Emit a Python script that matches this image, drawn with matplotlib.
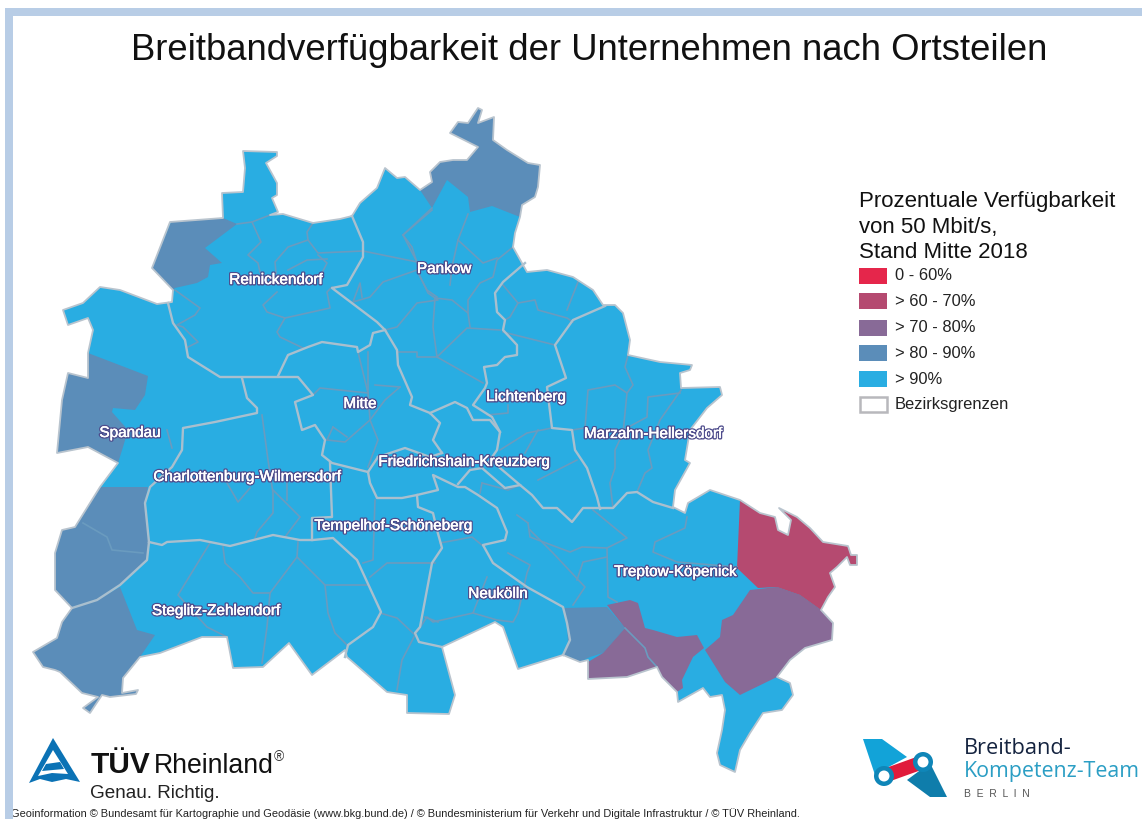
import matplotlib
matplotlib.use("Agg")
import matplotlib.pyplot as plt
import matplotlib.patheffects as pe
from matplotlib.patches import Polygon, Rectangle, Circle

plt.rcParams['font.family'] = ['Liberation Sans', 'DejaVu Sans']

TITLE = "Breitbandverfügbarkeit der Unternehmen nach Ortsteilen"
LEGEND_TITLE = ["Prozentuale Verfügbarkeit", "von 50 Mbit/s,", "Stand Mitte 2018"]
CLASSES = ["0 - 60%", "> 60 - 70%", "> 70 - 80%", "> 80 - 90%", "> 90%"]
CLASS_COLORS = ["#E5264B", "#B54A70", "#886A97", "#5B8DB9", "#29ADE2"]
BORDER_LABEL = "Bezirksgrenzen"
FOOTER = ("Geoinformation © Bundesamt für Kartographie und Geodäsie (www.bkg.bund.de) / "
          "© Bundesministerium für Verkehr und Digitale Infrastruktur / © TÜV Rheinland.")

DISTRICT_LABELS = [
    ("Reinickendorf", 276, 280), ("Pankow", 444, 269), ("Mitte", 360, 404),
    ("Lichtenberg", 526, 397), ("Spandau", 130, 433), ("Marzahn-Hellersdorf", 653, 434),
    ("Charlottenburg-Wilmersdorf", 247, 477), ("Friedrichshain-Kreuzberg", 464, 462),
    ("Tempelhof-Schöneberg", 393, 526), ("Steglitz-Zehlendorf", 216, 611),
    ("Neukölln", 498, 594), ("Treptow-Köpenick", 675, 572),
]

OUTLINE = [(243,151),(277,152),(277,156),(266,163),(271,172),(277,183),(277,195),(272,198),(278,212),(270,215),
 (283,214),(313,223),(340,219),(352,216),(360,203),(377,188),(385,168),(397,178),(405,177),(420,190),
 (432,182),(430,172),(440,162),(453,160),(467,160),(478,147),(450,133),(458,122),(468,123),(478,108),(482,110),
 (478,123),(494,117),(493,140),(507,150),(528,163),(540,165),(538,187),(535,197),(522,205),(520,217),(515,233),
 (513,247),(527,272),(547,270),(573,277),(593,290),(603,305),(615,305),(623,313),(630,340),(628,355),(660,362),
 (692,365),(690,370),(680,373),(681,388),(720,387),(722,395),(707,408),(690,430),(685,460),(690,463),(675,490),
 (673,507),(685,513),(688,503),(710,490),(740,500),(760,513),(775,517),(778,530),(788,535),(791,520),(779,508),
 (797,517),(810,528),(823,542),(848,546),(851,555),(857,555),(857,565),(850,565),(847,557),(837,567),(830,573),
 (835,587),(828,597),(821,610),(833,623),(832,640),(805,648),(790,660),(777,677),(790,683),(793,695),(782,710),
 (763,713),(750,733),(740,750),(735,772),(720,765),(717,753),(722,730),(725,710),(722,695),(710,697),(703,688),(678,702),
 (677,692),(662,677),(657,667),(627,677),(588,679),(588,660),(580,662),(563,655),(518,669),(503,627),
 (495,622),(442,647),(455,695),(449,714),(407,713),(407,695),(387,692),(347,657),(345,650),(312,675),(289,643),
 (263,667),(233,668),(227,637),(202,637),(160,653),(140,657),(123,678),(122,693),(138,690),(136,694),(110,697),(102,695),(90,713),
 (83,708),(98,697),(82,693),(60,672),(55,670),(43,667),(33,652),(57,638),(62,622),(72,608),(55,590),(55,553),(62,530),
 (75,527),(100,487),(118,463),(88,447),(57,453),(62,400),(68,373),(88,378),(88,353),(93,330),(88,318),(68,325),
 (63,310),(83,303),(100,287),(120,290),(157,304),(172,302),(173,290),(152,268),(170,222),(223,218),(222,193),
 (243,192),(245,168)]

# class index -> region outlines
REGIONS = [
 (3, [(420,190),(432,182),(430,172),(440,162),(453,160),(467,160),(478,147),(450,133),(458,122),(468,123),(478,108),
      (482,110),(478,123),(494,117),(493,140),(507,150),(528,163),(540,165),(538,187),(535,197),(522,205),(520,217),
      (492,206),(470,212),(468,197),(447,180),(432,208)]),
 (3, [(171,222),(223,218),(237,224),(205,248),(222,263),(210,265),(208,277),(197,283),(175,288),(173,290),(152,268)]),
 (3, [(68,373),(88,378),(88,353),(148,376),(145,395),(135,410),(113,408),(112,412),(128,430),(123,447),(118,463),
      (88,447),(57,453),(62,400)]),
 (3, [(100,487),(148,487),(145,503),(149,540),(147,560),(120,585),(97,600),(72,608),(55,590),(55,553),(62,530),(75,527)]),
 (3, [(72,608),(97,600),(120,587),(137,630),(155,635),(140,657),(123,678),(122,693),(138,690),(136,694),(110,697),(102,695),(90,713),
      (83,708),(98,697),(82,693),(60,672),(55,670),(43,667),(33,652),(57,638),(62,622)]),
 (3, [(563,608),(607,607),(625,628),(603,653),(590,657),(580,662),(570,657),(563,655),(568,643),(567,623)]),
 (2, [(607,605),(630,600),(638,603),(645,628),(653,630),(677,637),(697,635),(704,648),(693,657),(682,680),(683,688),
      (677,692),(662,677),(657,667),(627,677),(588,679),(588,662),(603,653),(625,628)]),
 (2, [(705,650),(720,637),(722,620),(733,615),(750,590),(777,587),(800,595),(821,610),(833,623),(832,640),(805,648),
      (790,660),(777,677),(740,695),(725,682)]),
 (1, [(740,500),(760,513),(775,517),(778,530),(788,535),(791,520),(779,508),(797,517),(810,528),(823,542),(848,546),
      (851,555),(857,555),(857,565),(850,565),(847,557),(837,567),(830,573),(835,587),(828,597),(821,610),(800,595),
      (777,587),(758,588),(737,568)]),
]

DISTRICT_BORDERS = [
 [(352,216),(363,242),(363,257),(347,285),(332,288),(377,322),(385,330),(397,350),(398,365),(412,397),(410,405),
  (430,413),(440,423),(433,440),(442,453)],
 [(525,263),(503,282),(495,293),(497,312),(505,320),(503,330),(517,345),(517,355),(505,357),(497,365),(484,367),
  (487,383),(485,388),(473,405),(492,417),(500,432),(497,450),(488,463)],
 [(430,413),(455,402),(467,408),(473,420),(490,420),(500,432)],
 [(605,306),(573,320),(555,345),(566,378),(547,387),(552,428),(572,430),(575,450),(587,468),(597,497),(600,509)],
 [(673,508),(653,502),(637,492),(627,493),(613,508),(583,508),(572,522),(557,508),(543,508),(532,495),(520,485),
  (505,488),(482,468),(470,470),(458,484)],
 [(500,468),(520,485)],
 [(378,457),(405,448),(430,457),(442,453)],
 [(368,472),(378,457)],
 [(368,472),(370,483),(377,498),(402,498),(417,495),(438,490),(433,475),(458,487),(465,487),(478,495),(497,508),
  (507,532),(505,540),(483,545),(493,563),(527,587),(563,607),(567,623),(570,640),(563,655)],
 [(168,303),(173,323),(185,340),(188,357),(220,377),(298,377),(313,395),(295,402),(302,430),(315,425),(325,440),
  (322,455),(332,463),(368,472)],
 [(278,376),(288,355),(308,347),(322,342),(357,347),(358,352),(370,345),(373,333),(385,330)],
 [(242,378),(247,398),(257,408),(257,413),(215,422),(183,428),(182,450),(172,467),(150,487),(145,503),(149,542),
  (147,560),(120,585),(97,600),(72,608)],
 [(149,542),(162,545),(167,542),(200,540),(230,546),(273,535),(300,540),(313,540),(333,538),(357,560),(381,612),
  (373,627),(348,645),(345,657)],
 [(312,540),(312,518),(332,517),(330,463)],
 [(417,495),(418,507),(433,513),(437,530),(442,548),(432,563),(420,627),(415,633),(419,642),(442,647)],
]

SUBURB_BORDERS = [
 [(237,224),(252,222),(270,215)], [(252,222),(261,242),(248,255),(258,263),(260,272)],
 [(313,223),(307,232),(308,240),(318,253),(363,251)], [(308,240),(288,247),(275,262),(276,273)],
 [(318,255),(327,263),(322,273)], [(327,259),(307,260),(288,270)],
 [(277,292),(263,305),(267,312),(285,318),(330,308),(327,292),(332,287)], [(285,318),(277,332),(280,337),(303,348)],
 [(175,290),(200,308),(195,315),(177,325),(183,327),(198,342),(188,347)],
 [(363,251),(417,262),(403,235),(432,210)], [(417,270),(383,282),(370,297),(353,302),(360,283),(362,297)],
 [(417,270),(428,293),(438,300),(417,303),(397,327),(385,330)], [(435,298),(433,327),(437,357),(467,328),(500,330)],
 [(437,357),(417,357),(417,352),(398,352)], [(437,357),(483,383)],
 [(435,298),(452,300),(468,313),(470,327)], [(468,313),(468,300),(480,283),(493,277),(497,260),(513,247)],
 [(458,240),(483,263),(497,258)], [(458,240),(468,214)], [(458,240),(452,267),(450,285)],
 [(437,297),(427,290),(418,273)], [(403,235),(412,247),(417,263)], [(432,208),(403,235)],
 [(503,285),(518,303),(510,317),(505,320)], [(518,303),(535,300),(538,310),(567,318),(573,322)],
 [(567,310),(578,282)], [(503,332),(555,345)],
 [(628,355),(625,367),(633,385),(627,393),(615,385),(588,390),(585,428),(572,430)],
 [(627,393),(623,433),(615,450),(615,468),(610,483),(613,508)], [(680,393),(648,397),(647,417),(623,430)],
 [(681,390),(660,420),(648,450),(652,468),(645,473),(637,492)], [(500,450),(527,433),(552,428)],
 [(525,453),(538,430)], [(538,480),(577,460)], [(487,415),(508,413),(508,405)],
 [(368,352),(368,393),(370,420)], [(358,352),(368,393)], [(370,420),(385,400),(400,387)], [(375,385),(400,387)],
 [(313,395),(320,388),(368,393)], [(370,420),(378,440),(368,467)],
 [(370,420),(345,442),(327,440)], [(333,427),(347,437)], [(333,427),(327,440)],
 [(262,415),(268,460),(273,493),(273,513),(257,532),(255,538)], [(273,490),(300,517),(285,537)],
 [(287,480),(287,500)], [(227,483),(238,502),(250,488)], [(167,430),(172,448)],
 [(375,500),(373,560),(363,563)], [(297,557),(325,585),(367,585)], [(370,577),(387,563),(435,563)],
 [(380,613),(397,618),(415,635),(402,660),(397,690)],
 [(210,543),(178,595),(207,627),(227,637)],
 [(223,547),(225,563),(240,577),(253,593),(270,593),(297,557),(298,542)], [(270,593),(267,627),(262,663)],
 [(325,585),(328,613),(335,633),(347,645)], [(425,617),(438,622)],
 [(440,543),(472,537),(483,546)], [(433,563),(400,563)],
 [(487,577),(473,613),(433,622),(427,617),(417,632)], [(473,613),(497,620),(513,622),(518,613),(527,573),(530,565),(508,553)],
 [(528,523),(530,537),(570,552),(582,547),(607,548),(627,538),(593,510)],
 [(530,530),(553,553),(585,587),(573,605)], [(607,548),(608,597),(617,602)],
 [(607,557),(583,562),(577,580)],
 [(687,517),(685,528),(655,542),(653,552),(677,562),(737,567)],
 [(482,483),(480,493)], [(482,483),(508,490),(520,485)], [(517,515),(528,523)],
 [(83,523),(107,537),(112,550),(143,553)], [(625,628),(645,648),(648,657),(657,667)],
]

W, H = 1142, 819
fig = plt.figure(figsize=(W / 100, H / 100), dpi=100, facecolor="white")
ax = fig.add_axes([0, 0, 1, 1])
ax.set_xlim(0, W)
ax.set_ylim(H, 0)
ax.axis("off")

# map
ax.add_patch(Polygon(OUTLINE, closed=True, fc=CLASS_COLORS[4], ec="none", zorder=1))
for cls, pts in REGIONS:
    ax.add_patch(Polygon(pts, closed=True, fc=CLASS_COLORS[cls], ec="none", zorder=2))
for line in SUBURB_BORDERS:
    xs, ys = zip(*line)
    ax.plot(xs, ys, color="#6A9BBF", lw=1.2, solid_joinstyle="round", zorder=3)
for line in DISTRICT_BORDERS:
    xs, ys = zip(*line)
    ax.plot(xs, ys, color="#A9BFCE", lw=1.7, solid_joinstyle="round", zorder=4)
ax.add_patch(Polygon(OUTLINE, closed=True, fc="none", ec="#B9C4CE", lw=1.3, joinstyle="round", zorder=5))

for name, x, y in DISTRICT_LABELS:
    ax.text(x, y, name, color="white", fontsize=11, ha="center", va="center", zorder=8,
            path_effects=[pe.withStroke(linewidth=2.2, foreground="#4E4C8C"),
                          pe.Stroke(linewidth=0.25, foreground="white"), pe.Normal()])

# title
ax.text(589.5, 50, TITLE, fontsize=26.3, color="#111111", ha="center", va="center", zorder=8)

# legend
for i, line in enumerate(LEGEND_TITLE):
    ax.text(859, 202 + 25 * i, line, fontsize=16, color="#111111", ha="left", va="center")
swatch_tops = [268, 293, 320, 345, 371]
for lab, col, top in zip(CLASSES, CLASS_COLORS, swatch_tops):
    ax.add_patch(Rectangle((859, top), 28, 16, fc=col, ec="none"))
    ax.text(895, top + 8, lab, fontsize=11.9, color="#222222", ha="left", va="center")
ax.add_patch(Rectangle((859.5, 397), 27, 15, fc="white", ec="#B8B8BC", lw=1.8))
ax.text(895, 405, BORDER_LABEL, fontsize=11.9, color="#222222", ha="left", va="center")

# footer and frame band
ax.text(11, 814, FOOTER, fontsize=7.95, color="#222222", ha="left", va="center", zorder=6)
ax.add_patch(Rectangle((5, 8), 8, H - 8, fc="#B8CDE6", ec="none", zorder=9))
ax.add_patch(Rectangle((5, 8), W - 5, 8, fc="#B8CDE6", ec="none", zorder=9))

# TÜV logo
ax.add_patch(Polygon([(53, 738), (80, 782), (66, 779), (52, 782), (40, 779), (29, 783)], closed=True,
                     fc="#0B72B5", ec="none", zorder=6))
ax.add_patch(Polygon([(53, 750), (68, 774), (52, 773), (38, 776)], closed=True, fc="white", ec="none", zorder=7))
ax.add_patch(Polygon([(46, 764), (60, 762), (64, 769), (42, 771)], closed=True, fc="#0B72B5", ec="none", zorder=8))
ax.text(91, 773, "TÜV", fontsize=21.5, fontweight="bold", color="#111111", ha="left", va="baseline")
ax.text(154, 773, "Rheinland", fontsize=19.2, color="#111111", ha="left", va="baseline")
ax.text(274, 757, "®", fontsize=10, color="#333333", ha="left", va="center")
ax.text(90, 793, "Genau. Richtig.", fontsize=13.6, color="#222222", ha="left", va="center")

# Breitband logo
ax.add_patch(Polygon([(863, 739), (882, 739), (907, 757), (883, 770), (875, 775)], closed=True, fc="#12A3D8", ec="none"))
ax.add_patch(Polygon([(907, 780), (930, 763), (947, 797), (930, 797)], closed=True, fc="#0F7DAB", ec="none"))
ax.plot([884, 923], [776, 762], color="#E01B3C", lw=10, solid_capstyle="butt", zorder=3)
for cx, cy in [(884, 776), (923, 762)]:
    ax.add_patch(Circle((cx, cy), 10, fc="#0F86B8", ec="none", zorder=4))
    ax.add_patch(Circle((cx, cy), 5.5, fc="white", ec="none", zorder=5))
ax.text(964, 749, "Breitband-", fontsize=15.7, family=["Open Sans", "DejaVu Sans"], color="#14233F", ha="left", va="center")
ax.text(964, 772, "Kompetenz-Team", fontsize=15.4, family=["Open Sans", "DejaVu Sans"], color="#2B9EC4", ha="left", va="center")
ax.text(964, 794, "B  E  R  L  I  N", fontsize=7.5, color="#555555", ha="left", va="center")

fig.savefig("out.png", dpi=100, facecolor="white")
